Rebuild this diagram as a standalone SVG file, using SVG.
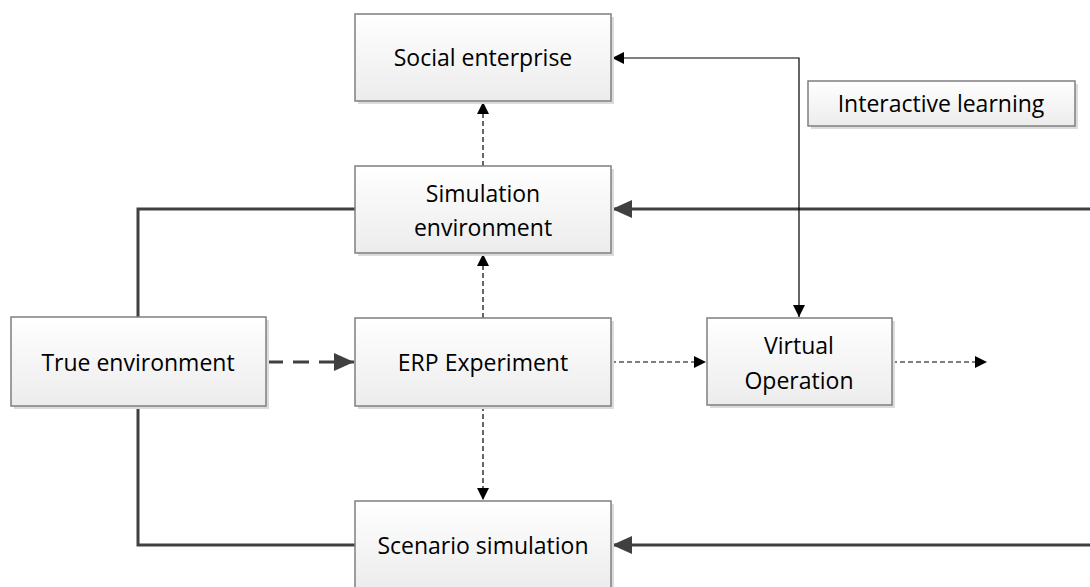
<svg xmlns="http://www.w3.org/2000/svg" width="1090" height="587" viewBox="0 0 1090 587">
<style>
  .box{fill:url(#g);stroke:#7f7f7f;stroke-width:1.5}
  .sh{fill:#dcdcdc}
  .t{font-family:"Open Sans","Liberation Sans",sans-serif;font-size:23px;fill:#000;text-anchor:middle;dominant-baseline:central}
  .thick{fill:none;stroke:#404040;stroke-width:3}
  .dash{fill:none;stroke:#000;stroke-width:1.2;stroke-dasharray:5 3}
  .thin{fill:none;stroke:#000;stroke-width:1.2}
</style>
<defs>
  <linearGradient id="g" x1="0" y1="0" x2="0" y2="1">
    <stop offset="0" stop-color="#ffffff"/>
    <stop offset="1" stop-color="#ececec"/>
  </linearGradient>
  <marker id="ab" viewBox="0 0 10 10" refX="10" refY="5" markerWidth="12" markerHeight="12" markerUnits="userSpaceOnUse" orient="auto-start-reverse">
    <path d="M0,0 L10,5 L0,10 z" fill="#000"/>
  </marker>
  <marker id="ag" viewBox="0 0 10 10" refX="10" refY="5" markerWidth="20" markerHeight="20" markerUnits="userSpaceOnUse" orient="auto">
    <path d="M0,0.5 L10,5 L0,9.5 z" fill="#404040"/>
  </marker>
</defs>

<g id="connectors">
  <polyline class="thick" points="355,209 138,209 138,317"/>
  <polyline class="thick" points="138,406 138,545 355,545"/>
  <line class="thick" x1="1090" y1="209" x2="612" y2="209" marker-end="url(#ag)"/>
  <line class="thick" x1="1090" y1="545" x2="612" y2="545" marker-end="url(#ag)"/>
  <line class="thick" x1="267" y1="362" x2="354" y2="362" stroke-dasharray="16 10" marker-end="url(#ag)"/>
  <line class="dash" x1="483" y1="166" x2="483" y2="102" marker-end="url(#ab)"/>
  <line class="dash" x1="483" y1="318" x2="483" y2="254" marker-end="url(#ab)"/>
  <line class="dash" x1="483" y1="406" x2="483" y2="500" marker-end="url(#ab)"/>
  <line class="dash" x1="611" y1="362" x2="706" y2="362" marker-end="url(#ab)"/>
  <line class="dash" x1="892" y1="362" x2="987" y2="362" marker-end="url(#ab)"/>
  <polyline class="thin" points="612,58 799,58 799,317" marker-start="url(#ab)" marker-end="url(#ab)"/>
</g>

<g id="social-enterprise">
  <rect class="sh" x="358" y="17" width="256" height="87"/>
  <rect class="box" x="355" y="14" width="256" height="87"/>
  <text class="t" x="483" y="57">Social enterprise</text>
</g>
<g id="interactive-learning">
  <rect class="sh" x="811" y="84" width="267" height="45"/>
  <rect class="box" x="808" y="81" width="267" height="45"/>
  <text class="t" x="941" y="103">Interactive learning</text>
</g>
<g id="simulation-environment">
  <rect class="sh" x="358" y="169" width="256" height="87"/>
  <rect class="box" x="355" y="166" width="256" height="87"/>
  <text class="t" x="483" y="193">Simulation</text>
  <text class="t" x="483" y="227">environment</text>
</g>
<g id="true-environment">
  <rect class="sh" x="14" y="320" width="255" height="89"/>
  <rect class="box" x="11" y="317" width="255" height="89"/>
  <text class="t" x="138" y="362">True environment</text>
</g>
<g id="erp-experiment">
  <rect class="sh" x="358" y="321" width="256" height="88"/>
  <rect class="box" x="355" y="318" width="256" height="88"/>
  <text class="t" x="483" y="362">ERP Experiment</text>
</g>
<g id="virtual-operation">
  <rect class="sh" x="710" y="321" width="185" height="87"/>
  <rect class="box" x="707" y="318" width="185" height="87"/>
  <text class="t" x="799" y="345">Virtual</text>
  <text class="t" x="799" y="380">Operation</text>
</g>
<g id="scenario-simulation">
  <rect class="sh" x="358" y="504" width="256" height="88"/>
  <rect class="box" x="355" y="501" width="256" height="88"/>
  <text class="t" x="483" y="545">Scenario simulation</text>
</g>
</svg>
